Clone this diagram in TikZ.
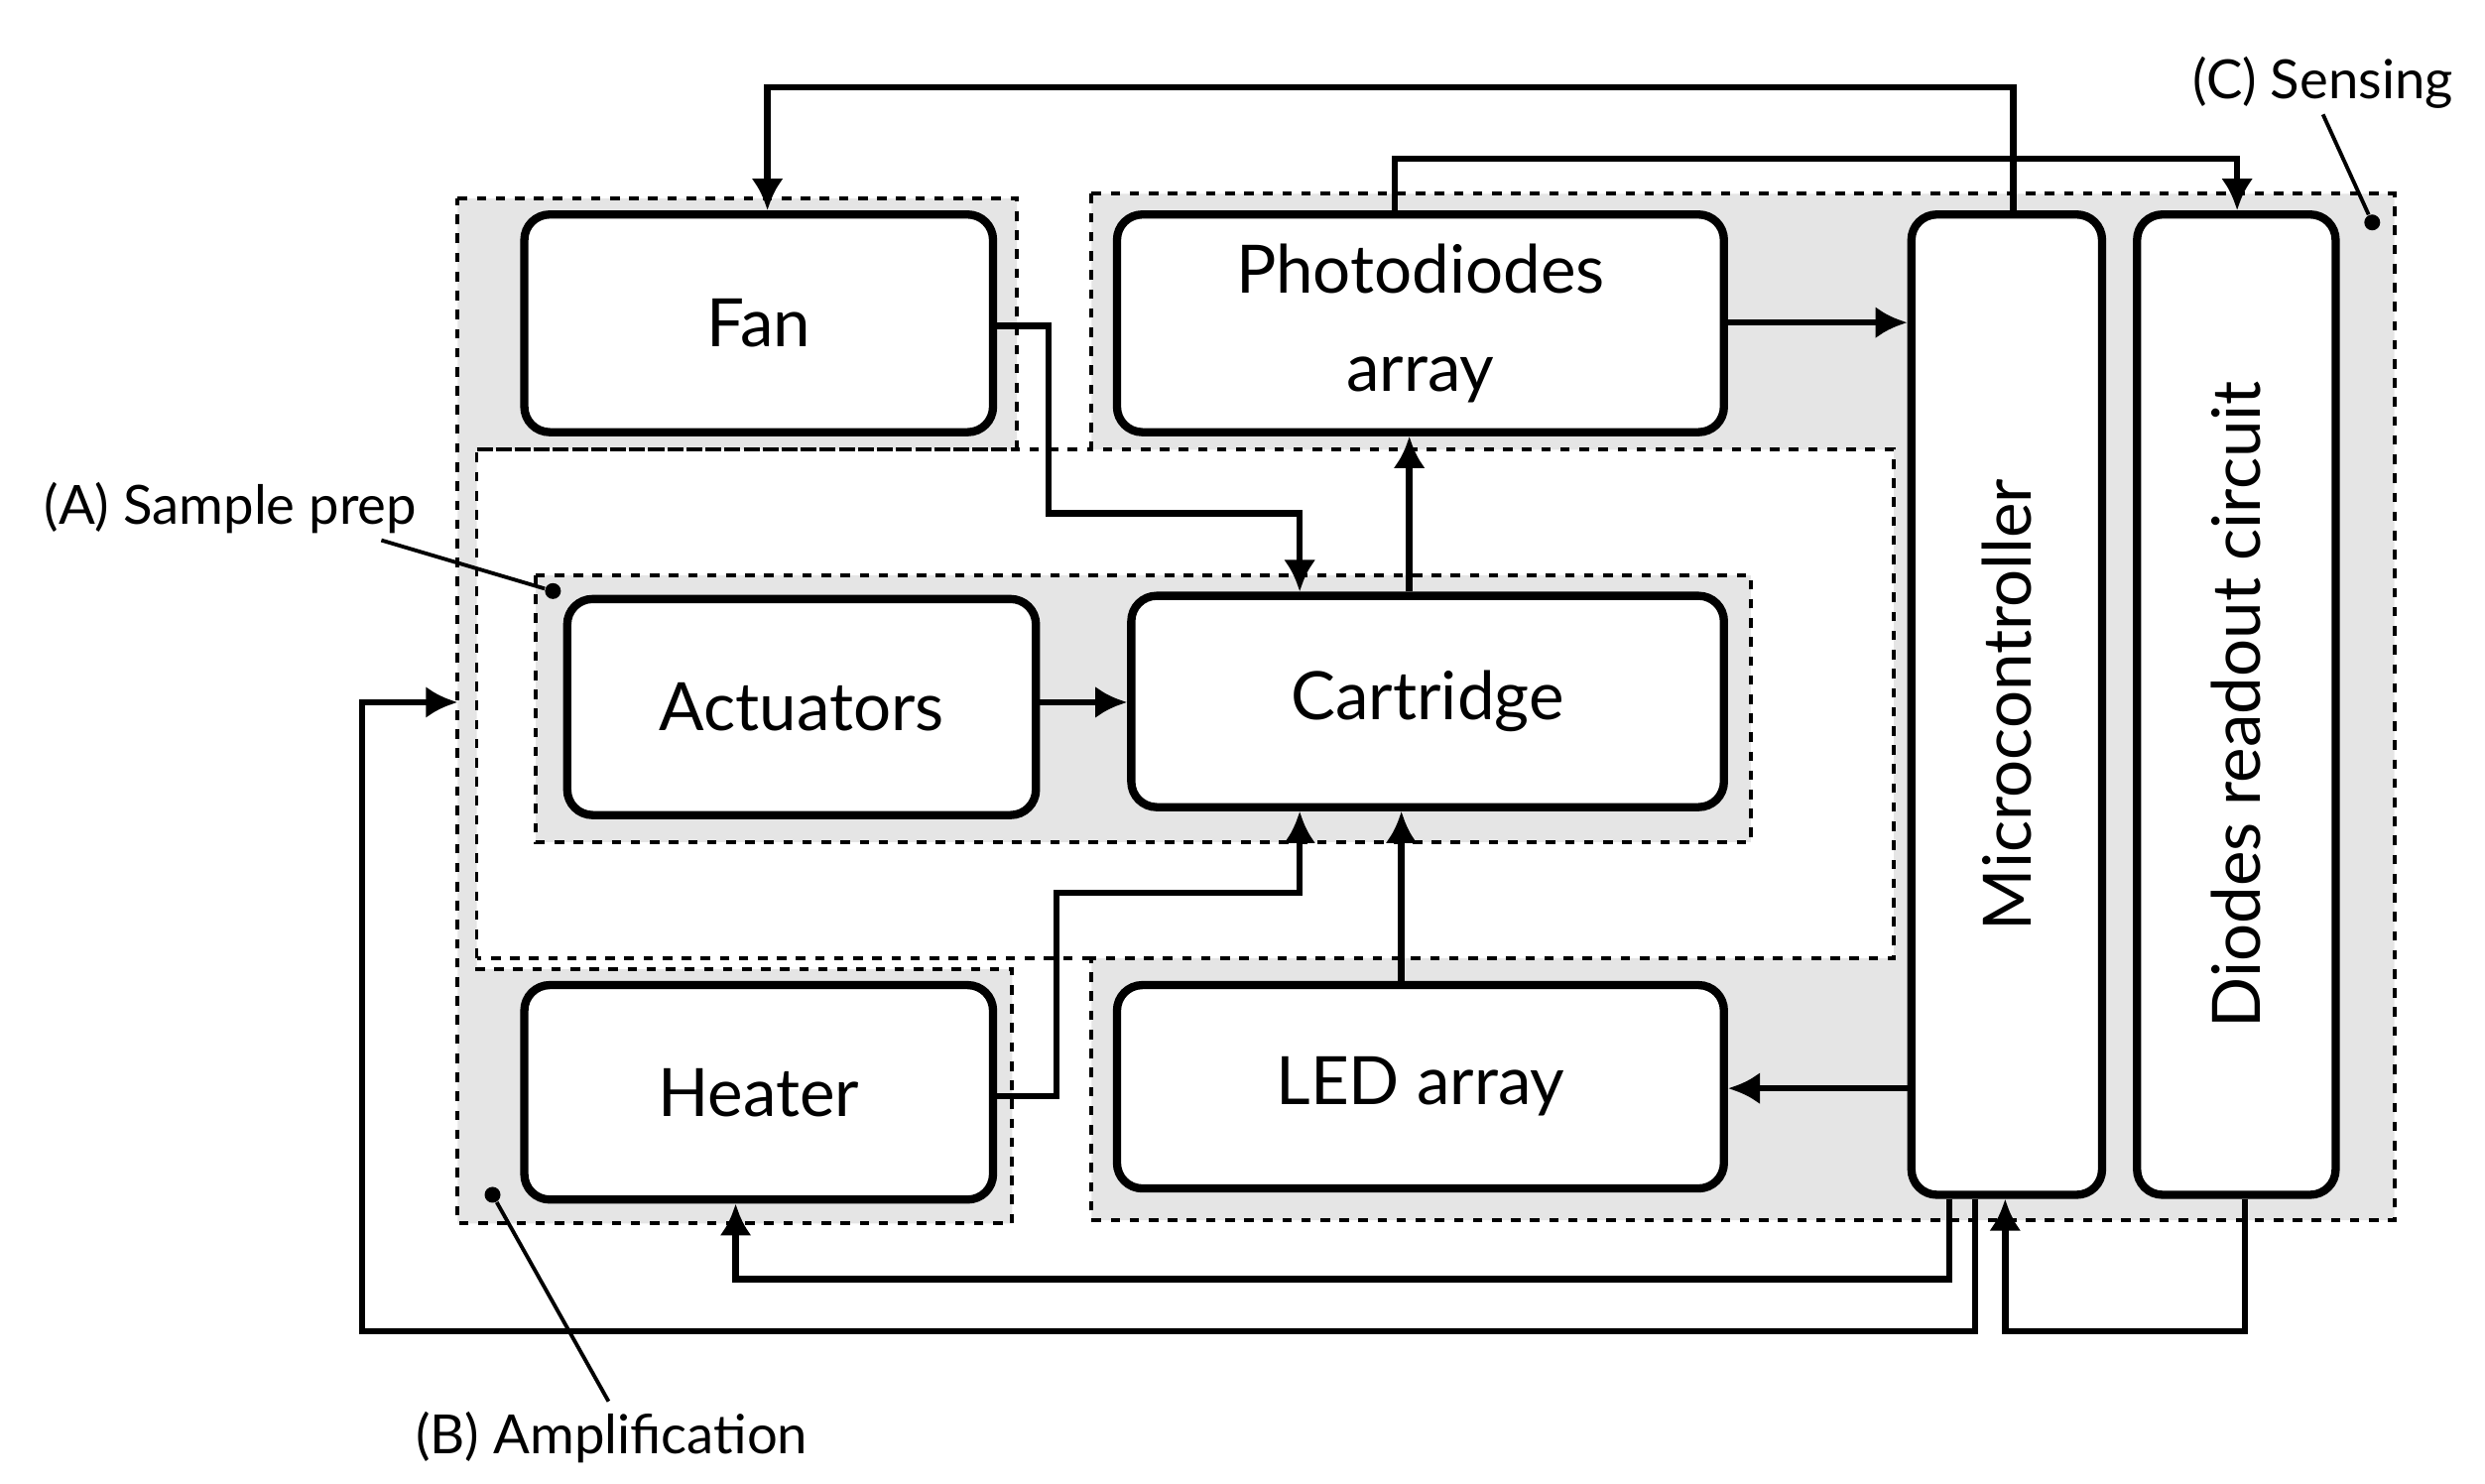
\documentclass[tikz,border=0pt]{standalone}
\usepackage{fontspec}
\setmainfont{Lato}
\usetikzlibrary{arrows.meta}
\begin{document}
\begin{tikzpicture}[x=0.5pt,y=-0.5pt,
  box/.style={draw,line width=2.6pt,rounded corners=8pt,fill=white,inner sep=0pt,font=\fontsize{21}{31}\selectfont,align=center},
  reg/.style={draw,dashed,line width=1.2pt,fill=black!10},
  ar/.style={line width=2pt,-{Latex[length=10pt,width=10pt]}},
  ln/.style={line width=1.2pt},
  dot/.style={circle,fill=black,inner sep=0pt,minimum size=5pt},
  lab/.style={font=\fontsize{17}{20}\selectfont,inner sep=1pt}]
\useasboundingbox (0,0) rectangle (1564,934);
% regions
\draw[reg] (288,125)--(640,125)--(640,283)--(300,283)--(300,610)--(637,610)--(637,770)--(288,770)--cycle;
\draw[reg] (687,122)--(1507,122)--(1507,768)--(687,768)--(687,603)--(1192,603)--(1192,283)--(687,283)--cycle;
\draw[dashed,line width=1.2pt] (300,283)--(687,283) (687,603)--(300,603);
\draw[reg] (337,362) rectangle (1102,530);
% boxes
\node[box,minimum width=147.5pt,minimum height=68.5pt] (fan) at (477.5,203.5) {Fan};
\node[box,minimum width=191pt,minimum height=68.5pt] (photo) at (894,203.5) {Photodiodes\\array};
\node[box,minimum width=60pt,minimum height=308.5pt] (micro) at (1263,443.5) {};
\node[rotate=90,font=\fontsize{21}{25}\selectfont] (microT) at (micro.center) {Microcontroller};
\node[box,minimum width=62.5pt,minimum height=308.5pt] (diodes) at (1407.5,443.5) {};
\node[rotate=90,font=\fontsize{21}{25}\selectfont] (diodesT) at (diodes.center) {Diodes readout circuit};
\node[box,minimum width=147.5pt,minimum height=68pt] (act) at (504.5,445) {Actuators};
\node[box,minimum width=186.5pt,minimum height=66.5pt] (cart) at (898.5,441.5) {Cartridge};
\node[box,minimum width=147.5pt,minimum height=67.5pt] (heater) at (477.5,687.5) {Heater};
\node[box,minimum width=191pt,minimum height=64pt] (led) at (894,684) {LED array};
% connectors
\draw[ar] (micro.north -| 1267,0) -- (1267,55) -- (483,55) -- (fan.north -| 483,0);
\draw[ar] (photo.north -| 878,0) -- (878,100) -- (1408,100) -- (diodes.north -| 1408,0);
\draw[ar] (photo.east |- 0,203) -- (micro.west |- 0,203);
\draw[ar] (fan.east |- 0,205) -- (660,205) -- (660,323) -- (818,323) -- (cart.north -| 818,0);
\draw[ar] (cart.north -| 887,0) -- (photo.south -| 887,0);
\draw[ar] (act.east |- 0,442) -- (cart.west |- 0,442);
\draw[ar] (heater.east |- 0,690) -- (665,690) -- (665,562) -- (818,562) -- (cart.south -| 818,0);
\draw[ar] (led.north -| 882,0) -- (cart.south -| 882,0);
\draw[ar] (micro.west |- 0,685) -- (led.east |- 0,685);
\draw[ar] (micro.south -| 1227,0) -- (1227,805) -- (463,805) -- (heater.south -| 463,0);
\coordinate (ampIn) at (288,442);
\draw[ar] (micro.south -| 1243,0) -- (1243,838) -- (228,838) -- (228,442) -- (ampIn);
\draw[ar] (diodes.south -| 1413,0) -- (1413,838) -- (1262,838) -- (micro.south -| 1262,0);
% labels
\node[lab] (labC) at (1462,52) {(C) Sensing};
\node[dot] (dC) at (1493,140) {};
\draw[ln] (1462,72) -- (dC);
\node[lab] (labA) at (145,320) {(A) Sample prep};
\node[dot] (dA) at (348,372) {};
\draw[ln] (240,340) -- (dA);
\node[lab] (labB) at (385,905) {(B) Amplification};
\node[dot] (dB) at (310,752) {};
\draw[ln] (383,882) -- (dB);
\end{tikzpicture}
\end{document}
